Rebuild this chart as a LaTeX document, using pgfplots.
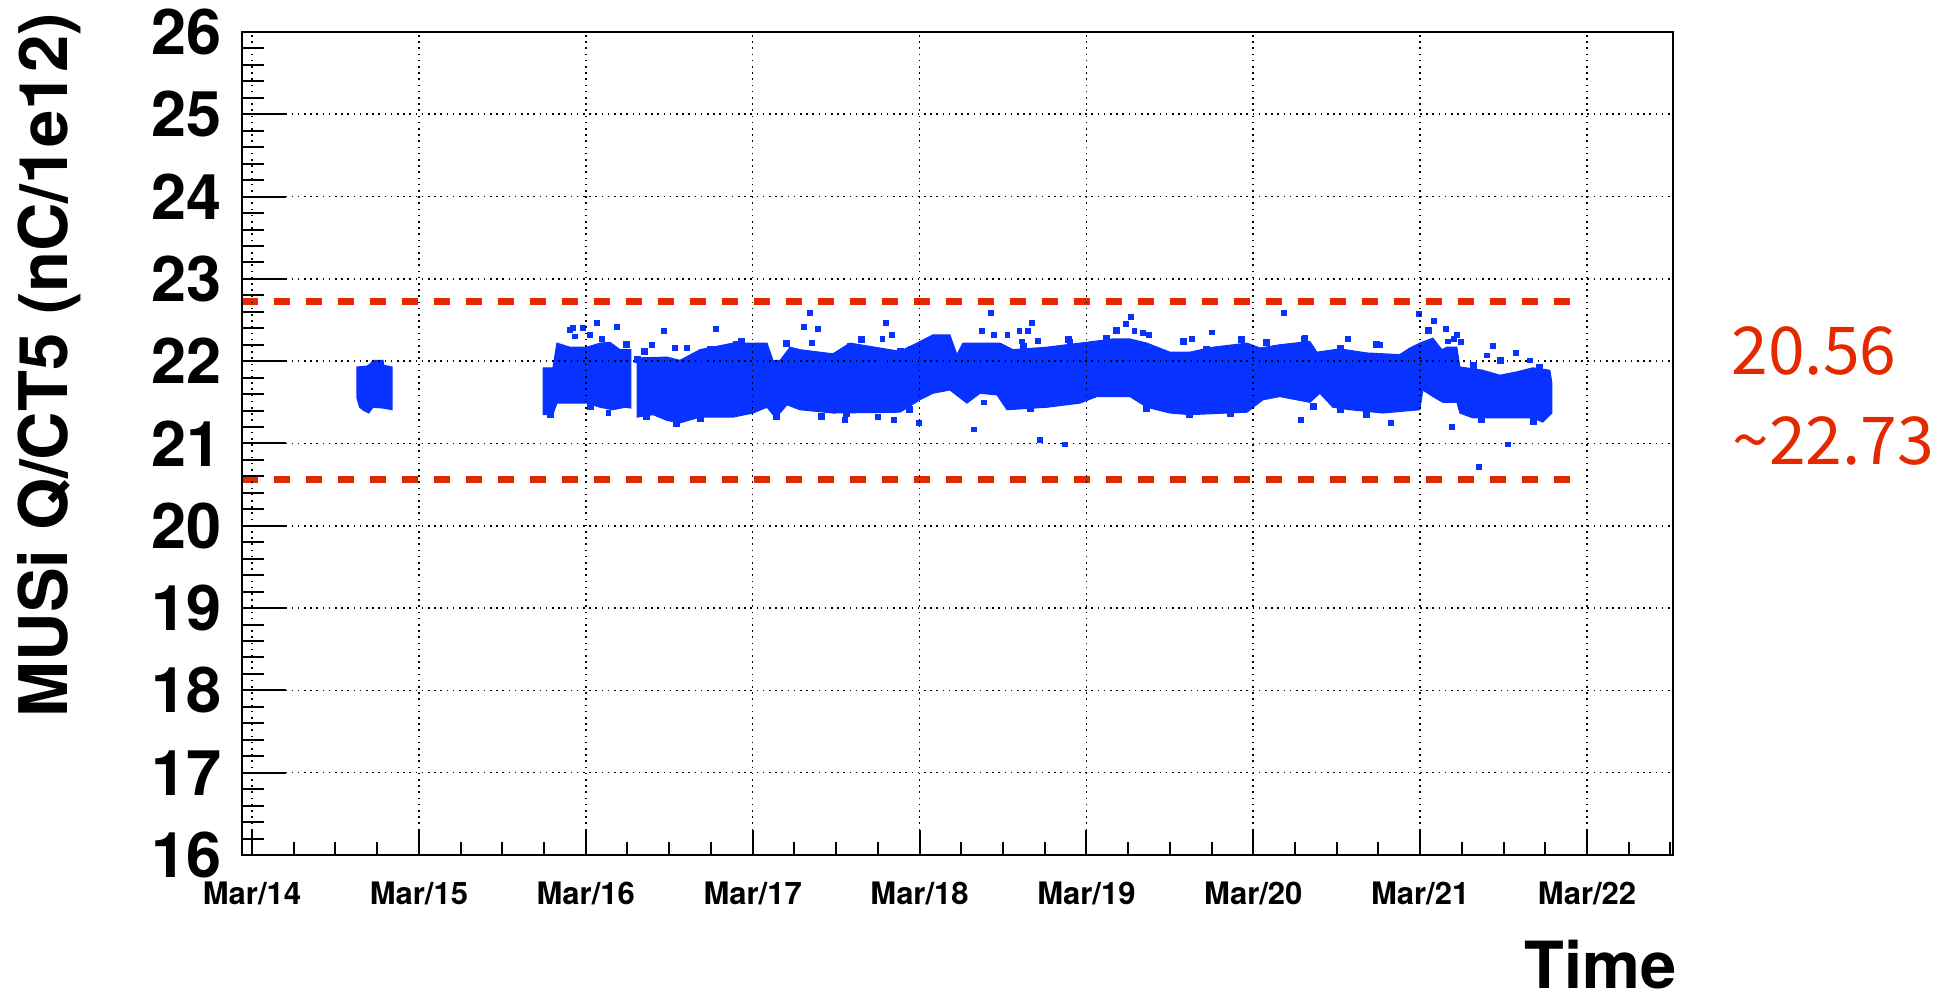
\documentclass[border=0pt]{standalone}
\usepackage{fontspec}
\setmainfont{TeX Gyre Heros}
\newfontfamily\cjk{Noto Sans CJK SC}
\usepackage{pgfplots}
\pgfplotsset{compat=1.18}
\definecolor{cblue}{RGB}{8,50,255}
\definecolor{cred}{RGB}{228,40,0}
\begin{document}
\begin{tikzpicture}
\begin{axis}[scale only axis, width=715.5pt, height=411.5pt,
  xmin=-0.06, xmax=8.515, ymin=16, ymax=26,
  axis on top, tick align=inside, tick pos=left,
  xtick=\empty,
  ytick={16,17,...,26}, minor y tick num=4,
  major tick length=22pt, minor tick length=11pt,
  ymajorgrids,
  grid style={black, line width=0.8pt, dash pattern=on 0.8pt off 2.3pt},
  axis line style={line width=1pt},
  tick style={black, line width=1pt},
  yticklabel style={font=\fontsize{31.5}{31.5}\selectfont\bfseries, anchor=east, inner sep=0pt, xshift=-10pt},
  /pgf/number format/assume math mode=true]
\coordinate (SW) at (rel axis cs:0,0);
\coordinate (NW) at (rel axis cs:0,1);
\coordinate (NE) at (rel axis cs:1,1);
\coordinate (SE) at (rel axis cs:1,0);
% first cluster
\addplot[fill=cblue, draw=cblue, line width=0.5pt] coordinates {
(0.629,21.55) (0.629,21.93) (0.689,21.94) (0.710,21.97) (0.725,22.01) (0.785,22.01) (0.790,21.95) (0.839,21.93)
(0.839,21.41) (0.785,21.43) (0.725,21.44) (0.700,21.37) (0.670,21.40) (0.645,21.44)} -- cycle;
% segment A
\addplot[fill=cblue, draw=cblue, line width=0.5pt] coordinates {
(1.744,21.35) (1.744,21.92) (1.803,21.92) (1.827,22.22) (1.905,22.17) (2.007,22.17) (2.085,22.22) (2.145,22.23) (2.205,22.14) (2.271,22.14)
(2.271,21.43) (2.235,21.44) (2.163,21.41) (2.085,21.44) (2.007,21.49) (1.827,21.49) (1.803,21.35)} -- cycle;
% segment B
\addplot[fill=cblue, draw=cblue, line width=0.5pt] coordinates {
(2.307,22.04) (2.487,22.05) (2.564,22.01) (2.684,22.14) (2.882,22.22) (3.086,22.22) (3.122,22.01) (3.164,22.01)
(3.224,22.17) (3.283,22.14) (3.481,22.09) (3.583,22.22) (3.883,22.12) (3.984,22.22) (4.080,22.32) (4.182,22.32)
(4.224,22.08) (4.260,22.22) (4.482,22.22) (4.560,22.14) (4.763,22.17) (4.961,22.22) (5.159,22.27) (5.261,22.27)
(5.362,22.22) (5.500,22.11) (5.620,22.11) (5.758,22.17) (5.962,22.22) (6.040,22.16) (6.159,22.20) (6.339,22.24)
(6.381,22.11) (6.519,22.15) (6.681,22.10) (6.878,22.08) (6.938,22.16) (6.998,22.22) (7.076,22.28) (7.130,22.14)
(7.160,22.17) (7.220,22.17) (7.238,21.93) (7.376,21.89) (7.478,21.83) (7.579,21.87) (7.675,21.92) (7.777,21.89)
(7.789,21.74)
(7.789,21.37) (7.735,21.26) (7.675,21.31) (7.316,21.31) (7.238,21.37) (7.220,21.50) (7.136,21.50) (7.076,21.57)
(7.016,21.65) (6.998,21.41) (6.777,21.37) (6.579,21.41) (6.477,21.44) (6.399,21.61) (6.339,21.50) (6.159,21.57)
(6.057,21.53) (5.962,21.38) (5.620,21.35) (5.500,21.37) (5.362,21.44) (5.261,21.57) (5.063,21.57) (4.961,21.49)
(4.763,21.44) (4.524,21.41) (4.464,21.59) (4.362,21.61) (4.284,21.49) (4.182,21.65) (4.080,21.61) (4.002,21.53)
(3.883,21.38) (3.481,21.37) (3.283,21.41) (3.206,21.47) (3.164,21.37) (3.122,21.35) (3.086,21.44) (3.002,21.37)
(2.882,21.32) (2.684,21.32) (2.564,21.25) (2.487,21.28) (2.403,21.35) (2.307,21.32)} -- cycle;
% outliers
\addplot[only marks, mark=square*, mark size=1.2pt, cblue] coordinates {
(1.905,22.38) (1.925,22.40) (1.981,22.40) (2.065,22.47) (2.185,22.42) (1.935,22.30) (2.025,22.32) (2.095,22.27)
(2.135,21.37) (2.470,22.37) (2.395,22.20) (2.534,22.16) (2.604,22.16) (2.780,22.39) (3.343,22.59) (3.307,22.42)
(3.393,22.39) (3.357,22.22) (3.553,21.29) (3.749,21.32) (3.848,21.29) (3.799,22.47) (3.833,22.32) (3.777,22.27)
(3.996,21.25) (4.328,21.17) (4.428,22.59) (4.376,22.37) (4.448,22.32) (4.526,22.32) (4.598,22.37) (4.648,22.37)
(4.671,22.47) (4.707,22.25) (4.612,22.24) (4.388,21.50) (4.721,21.04) (4.871,20.99) (5.237,22.45) (5.265,22.54)
(5.287,22.37) (5.337,22.34) (5.375,22.32) (5.754,22.35) (5.630,22.27) (6.183,22.59) (6.283,21.29) (6.994,22.57)
(7.082,22.49) (7.154,22.39) (7.218,22.32) (7.204,22.27) (7.242,22.23) (7.168,22.24) (7.437,22.19) (7.573,22.10)
(7.402,22.07) (7.657,22.01) (6.823,21.25) (7.192,21.20) (7.527,20.99) (7.352,20.72) (6.565,22.27) (6.759,22.20)
(6.309,22.28) (4.901,22.24)};
% edge texture of the dense band
\addplot[only marks, mark=square*, mark size=1.5pt, cblue] coordinates {
(2.244,22.20) (2.311,22.02) (2.349,22.12) (2.700,22.04) (2.744,22.14) (2.844,22.12) (2.904,22.20) (2.934,22.24)
(3.200,22.22) (3.583,22.18) (3.653,22.27) (3.703,22.12) (3.773,22.01) (3.883,22.12) (3.953,22.14)
(1.786,21.35) (2.025,21.45) (2.365,21.33) (2.545,21.25) (2.684,21.31) (3.144,21.33) (3.414,21.33) (3.563,21.37) (3.942,21.41)
(4.502,22.14) (4.622,22.18) (4.892,22.27) (5.121,22.28) (5.181,22.38) (5.580,22.24) (5.720,22.14) (5.930,22.26)
(6.080,22.23) (6.309,22.27)
(4.662,21.43) (5.361,21.43) (5.620,21.35) (5.860,21.37) (6.359,21.45)
(6.519,22.16) (6.739,22.20) (7.048,22.38) (7.318,21.95) (7.478,22.01) (7.717,21.93)
(6.519,21.41) (6.679,21.35) (7.367,21.29) (7.677,21.27)};
% limits
\addplot[cred, line width=3.6pt, dash pattern=on 7.8pt off 8.2pt] coordinates {(-0.06,22.73) (7.92,22.73)};
\addplot[cred, line width=3.6pt, dash pattern=on 7.8pt off 8.2pt] coordinates {(-0.06,20.56) (7.94,20.56)};
\end{axis}
\begin{axis}[scale only axis, width=715.5pt, height=411.5pt,
  xmin=-0.06, xmax=8.515, ymin=16, ymax=26,
  hide y axis, tick align=inside, tick pos=left,
  xtick={0,1,...,8}, minor xtick={0.25,0.5,...,8.5},
  xticklabels={Mar/14,Mar/15,Mar/16,Mar/17,Mar/18,Mar/19,Mar/20,Mar/21,Mar/22},
  major tick length=12.5pt, minor tick length=6.5pt,
  xmajorgrids,
  grid style={black, line width=0.8pt, dash pattern=on 0.8pt off 2.3pt},
  axis line style={line width=1pt},
  tick style={black, line width=1pt},
  xticklabel style={font=\fontsize{15.5}{15.5}\selectfont\bfseries, anchor=base, inner sep=0pt, yshift=-25pt}]
\end{axis}
\node[rotate=90, anchor=base east, inner sep=0pt, font=\fontsize{33.5}{33.5}\selectfont\bfseries] at ([xshift=-87pt,yshift=9.5pt]NW) {MUSi Q/CT5 (nC/1e12)};
\node[anchor=base east, inner sep=0pt, font=\fontsize{32.5}{32.5}\selectfont\bfseries] at ([xshift=2pt,yshift=-67pt]SE) {Time};
\node[anchor=base west, inner sep=0pt, text=cred, font=\cjk\fontsize{33}{33}\selectfont] at ([xshift=29pt,yshift=-171.5pt]NE) {20.56};
\node[anchor=base west, inner sep=0pt, text=cred, font=\cjk\fontsize{33}{33}\selectfont] at ([xshift=29.5pt,yshift=-216.5pt]NE) {\textasciitilde22.73};
\pgfresetboundingbox
\path ([xshift=-121pt,yshift=-72.5pt]SW) rectangle ++(975.5pt,500pt);
\end{tikzpicture}
\end{document}
